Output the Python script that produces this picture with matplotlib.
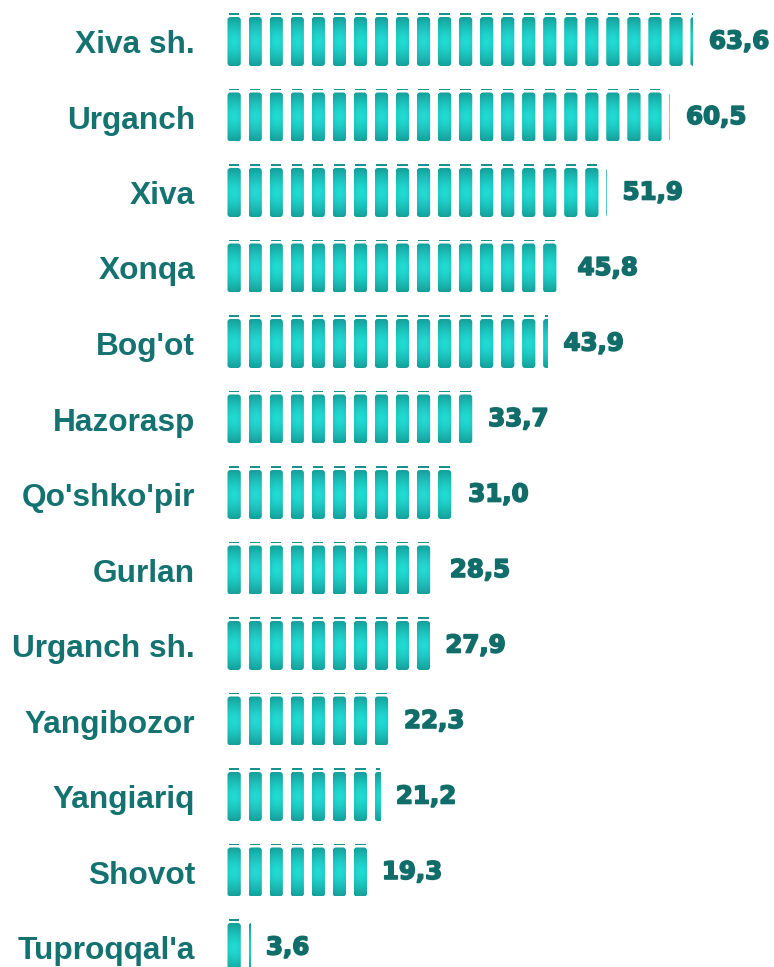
import numpy as np
import matplotlib
matplotlib.use("Agg")
import matplotlib.pyplot as plt
from matplotlib.patches import FancyBboxPatch, Rectangle
import matplotlib.patheffects as pe
from matplotlib.colors import to_rgb

categories = ["Xiva sh.", "Urganch", "Xiva", "Xonqa", "Bog'ot", "Hazorasp",
              "Qo'shko'pir", "Gurlan", "Urganch sh.", "Yangibozor", "Yangiariq",
              "Shovot", "Tuproqqal'a"]
values = [63.6, 60.5, 51.9, 45.8, 43.9, 33.7, 31.0, 28.5, 27.9, 22.3, 21.2, 19.3, 3.6]
value_labels = ["63,6", "60,5", "51,9", "45,8", "43,9", "33,7", "31,0", "28,5",
                "27,9", "22,3", "21,2", "19,3", "3,6"]

W, H, DPI = 774, 967, 100
fig = plt.figure(figsize=(W / DPI, H / DPI), dpi=DPI)

px_per_unit = 7.383
x0_px = 223.4
row0_px = 41.5
row_step = 75.5
ax = fig.add_axes([x0_px / W, 0, 1 - x0_px / W, 1])
ax.set_xlim(0, (W - x0_px) / px_per_unit)
ax.set_ylim((H - row0_px) / row_step, -row0_px / row_step)
for s in ax.spines.values():
    s.set_visible(False)
ax.set_xticks([])
ax.set_yticks(range(len(categories)))
ax.set_yticklabels(categories, fontfamily="Liberation Sans", fontweight="bold",
                   fontsize=22.8, color="#147270")
ax.tick_params(axis="y", length=0, pad=20.4)

# pill geometry (data units)
start = 0.555
period = 2.85
pw = 1.80
ph = 0.649
rx = 3.0 / px_per_unit
ry = 3.0 / row_step

c_center = np.array(to_rgb("#22dcd5"))
c_edge = np.array(to_rgb("#15a09b"))
nx, ny = 60, 120
gx = np.linspace(-1, 1, nx)
gy = np.linspace(-1, 1, ny)
GX, GY = np.meshgrid(gx, gy)
R = np.clip(np.sqrt((GX * 0.4) ** 2 + GY ** 2), 0, 1) ** 1.4
grad = c_center[None, None, :] * (1 - R[..., None]) + c_edge[None, None, :] * R[..., None]

for i, v in enumerate(values):
    p = start
    while p < v:
        vis = min(p + pw, v)
        frac = (vis - p) / pw
        ncol = max(1, int(round(frac * nx)))
        box = FancyBboxPatch((p, i - ph / 2), pw, ph,
                             boxstyle=f"round,pad=0,rounding_size={rx}",
                             mutation_aspect=ry / rx, facecolor="none",
                             edgecolor="none")
        ax.add_patch(box)
        im = ax.imshow(grad[:, :ncol], extent=(p, vis, i + ph / 2, i - ph / 2),
                       aspect="auto", interpolation="bilinear", zorder=2)
        im.set_clip_path(box)
        # thin dash on top
        d0 = p + 0.2
        d1 = min(p + pw - 0.2, v)
        if d1 > d0:
            ax.add_patch(Rectangle((d0, i - 0.372), d1 - d0, 0.02,
                                   facecolor="#18928d", edgecolor="none", zorder=2))
        p += period
    ax.text(v + 16 / px_per_unit, i, value_labels[i], ha="left", va="center",
            fontfamily="DejaVu Sans", fontweight="bold", fontsize=17.6,
            color="#116d69",
            path_effects=[pe.withStroke(linewidth=1.2, foreground="#116d69")])

ax.set_aspect("auto")
fig.savefig("out.png", dpi=DPI)
